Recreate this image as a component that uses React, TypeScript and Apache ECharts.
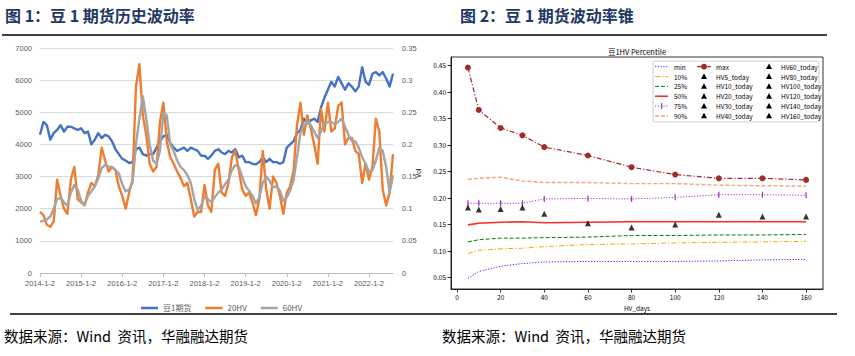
import React, { useEffect, useRef } from 'react';
import * as echarts from 'echarts';

// ---------- Figure 1: monthly samples 2014-01 .. 2022-07 ----------
const DATES: string[] = [];
for (let y = 2014; y <= 2022; y++) {
  for (let m = 1; m <= 12; m++) {
    if (y < 2022 || m <= 7) DATES.push(`${y}-${m}-2`);
  }
}
DATES.push('2022-7-29');

const PRICE = [
  4300, 4700, 4600, 4150, 4350, 4450, 4600, 4400, 4550, 4550, 4500, 4450,
  4500, 4350, 4400, 4000, 4150, 4350, 4200, 4300, 4250, 4100, 3850, 3700,
  3550, 3500, 3420, 3450, 3850, 3900, 3700, 3650, 3700, 3700, 3900, 4100,
  4250, 4300, 4050, 3900, 3800, 3850, 3900, 3800, 3900, 3850, 3800, 3650,
  3650, 3550, 3650, 3800, 3850, 3750, 3700, 3800, 3750, 3850, 3600, 3650,
  3450, 3450, 3400, 3380, 3450, 3600, 3450, 3550, 3450, 3450, 3400, 3450,
  3900, 4000, 4100, 4350, 4450, 4800, 4650, 4750, 4800, 4700, 5150, 5450,
  5700, 5950, 5800, 6100, 5900, 5700, 5900, 5800, 5650, 5800, 6400, 5950,
  5850, 6200, 6250, 6150, 6250, 6050, 5800, 6200,
];

const HV20 = [
  0.095, 0.09, 0.075, 0.072, 0.08, 0.145, 0.12, 0.1, 0.092, 0.145, 0.165, 0.115,
  0.11, 0.105, 0.125, 0.14, 0.135, 0.152, 0.195, 0.175, 0.158, 0.165, 0.16, 0.135,
  0.12, 0.1, 0.125, 0.145, 0.29, 0.325, 0.245, 0.215, 0.17, 0.158, 0.165, 0.235,
  0.265, 0.205, 0.18, 0.17, 0.158, 0.148, 0.135, 0.14, 0.115, 0.088, 0.095, 0.095,
  0.137, 0.105, 0.095, 0.16, 0.17, 0.125, 0.12, 0.14, 0.18, 0.19, 0.16, 0.13,
  0.12, 0.125, 0.11, 0.09, 0.115, 0.19, 0.13, 0.1, 0.15, 0.14, 0.12, 0.092,
  0.125, 0.135, 0.16, 0.23, 0.265, 0.215, 0.245, 0.225, 0.2, 0.17, 0.255, 0.22,
  0.265, 0.22, 0.225, 0.26, 0.265, 0.2, 0.21, 0.21, 0.19, 0.185, 0.14, 0.17,
  0.145, 0.165, 0.24, 0.22, 0.13, 0.105, 0.125, 0.185,
];

const HV60 = [
  0.08, 0.081, 0.083, 0.088, 0.1, 0.115, 0.117, 0.11, 0.105, 0.125, 0.137, 0.13,
  0.112, 0.106, 0.12, 0.127, 0.135, 0.147, 0.163, 0.168, 0.165, 0.165, 0.16, 0.155,
  0.138, 0.127, 0.13, 0.14, 0.2, 0.24, 0.275, 0.24, 0.2, 0.175, 0.17, 0.19,
  0.25, 0.245, 0.2, 0.19, 0.175, 0.165, 0.16, 0.152, 0.14, 0.115, 0.098, 0.105,
  0.118, 0.115, 0.11, 0.118, 0.125, 0.13, 0.138, 0.145, 0.16, 0.168, 0.165, 0.15,
  0.135, 0.128, 0.12, 0.108, 0.118, 0.14, 0.15, 0.143, 0.133, 0.135, 0.128, 0.112,
  0.118, 0.128, 0.145, 0.18, 0.218, 0.23, 0.235, 0.23, 0.22, 0.21, 0.22, 0.232,
  0.235, 0.235, 0.232, 0.235, 0.24, 0.228, 0.215, 0.205, 0.205, 0.195, 0.18, 0.17,
  0.157, 0.16, 0.175, 0.195, 0.19, 0.165, 0.125, 0.152,
];

const LEFT_NAMES = ['豆1期货', '20HV', '60HV'];

// ---------- Figure 2: volatility cone ----------
const HV_DAYS = [5, 10, 20, 30, 40, 60, 80, 100, 120, 140, 160];
const X_TICKS = [0, 20, 40, 60, 80, 100, 120, 140, 160];
const Y_TICKS = [0.05, 0.1, 0.15, 0.2, 0.25, 0.3, 0.35, 0.4, 0.45];

const CONE_MIN = [0.048, 0.061, 0.071, 0.076, 0.079, 0.08, 0.08, 0.08, 0.081, 0.083, 0.084];
const CONE_P10 = [0.095, 0.101, 0.104, 0.105, 0.108, 0.112, 0.113, 0.115, 0.116, 0.117, 0.118];
const CONE_P25 = [0.117, 0.121, 0.124, 0.124, 0.125, 0.126, 0.129, 0.129, 0.13, 0.13, 0.131];
const CONE_P50 = [0.149, 0.152, 0.154, 0.155, 0.153, 0.154, 0.155, 0.155, 0.155, 0.155, 0.155];
const CONE_P75 = [0.19, 0.19, 0.19, 0.19, 0.198, 0.199, 0.198, 0.201, 0.206, 0.206, 0.205];
const CONE_P90 = [0.235, 0.237, 0.239, 0.232, 0.229, 0.229, 0.227, 0.227, 0.224, 0.223, 0.222];
const CONE_MAX = [0.446, 0.366, 0.332, 0.318, 0.296, 0.28, 0.258, 0.244, 0.237, 0.237, 0.234];
const HV_TODAY = [0.182, 0.178, 0.179, 0.182, 0.17, 0.152, 0.144, 0.15, 0.168, 0.165, 0.165];

const CONE_NAMES = ['min', '10%', '25%', '50%', '75%', '90%', 'max'];
const CONE_DATA = [CONE_MIN, CONE_P10, CONE_P25, CONE_P50, CONE_P75, CONE_P90, CONE_MAX];

// styles (kept apart from data)
const CONE_STYLE: Record<string, { color: string; dash: number[] | null; width: number }> = {
  min: { color: '#2b2bff', dash: [1.2, 1.6], width: 1 },
  '10%': { color: '#ffa500', dash: [5, 2, 1.2, 2], width: 1 },
  '25%': { color: '#008000', dash: [4, 2], width: 1 },
  '50%': { color: '#ff2a2a', dash: null, width: 1.6 },
  '75%': { color: '#a53ac4', dash: [1.2, 1.6], width: 1 },
  '90%': { color: '#ffa07a', dash: [4, 2], width: 1.4 },
  max: { color: '#a52a2a', dash: [5, 2, 1.2, 2], width: 1.2 },
};

const SMALL_FONT = "'Noto Sans CJK JP', 'DejaVu Sans', sans-serif";
const CJK_FONT = "'Noto Sans CJK SC', 'Liberation Sans', sans-serif";

function buildOption() {
  const series: any[] = [];
  // Figure 1 series
  const leftColors = ['#4472C4', '#ED7D31', '#A5A5A5'];
  [PRICE, HV20, HV60].forEach((arr, i) => {
    series.push({
      name: LEFT_NAMES[i],
      type: 'line',
      xAxisIndex: 0,
      yAxisIndex: i === 0 ? 0 : 1,
      data: arr,
      symbol: 'none',
      lineStyle: { color: leftColors[i], width: 2.4, join: 'round' },
      itemStyle: { color: leftColors[i] },
      z: 2 + i,
    });
  });

  // Figure 2 series
  CONE_NAMES.forEach((name, i) => {
    const st = CONE_STYLE[name];
    const s: any = {
      name,
      type: 'line',
      xAxisIndex: 1,
      yAxisIndex: 2,
      data: HV_DAYS.map((d, j) => [d, CONE_DATA[i][j]]),
      symbol: 'none',
      lineStyle: { color: st.color, width: st.width, type: st.dash || 'solid' },
      itemStyle: { color: st.color },
      z: 5,
    };
    if (name === 'max') {
      s.symbol = 'circle';
      s.symbolSize = 6;
      s.showSymbol = true;
    }
    if (name === '75%') {
      s.symbol = 'rect';
      s.symbolSize = [1.3, 6];
      s.showSymbol = true;
    }
    series.push(s);
  });
  HV_DAYS.forEach((d, j) => {
    series.push({
      name: `HV${d}_today`,
      type: 'scatter',
      xAxisIndex: 1,
      yAxisIndex: 2,
      data: [[d, HV_TODAY[j]]],
      symbol: 'triangle',
      symbolSize: 6,
      itemStyle: { color: '#000' },
      z: 6,
    });
  });

  // matplotlib-style legend drawn as graphic
  const legendEls: any[] = [];
  legendEls.push({
    type: 'rect',
    shape: { x: 653, y: 61, width: 166, height: 61, r: 2 },
    style: { fill: '#fff', stroke: '#cfcfcf', lineWidth: 1 },
    z: 10,
  });
  const rowY = (r: number) => 66.7 + r * 9.85;
  const txt = (x: number, y: number, t: string) => ({
    type: 'text',
    x,
    y,
    style: { text: t, fill: '#000', fontSize: 6.5, fontFamily: SMALL_FONT, verticalAlign: 'middle', align: 'left' },
    z: 11,
  });
  const tri = (cx: number, cy: number) => ({
    type: 'polygon',
    shape: { points: [[cx, cy - 3.2], [cx + 3, cy + 2.4], [cx - 3, cy + 2.4]] },
    style: { fill: '#000' },
    z: 11,
  });
  const handle = (x1: number, x2: number, y: number, name: string) => {
    const st = CONE_STYLE[name];
    return {
      type: 'line',
      shape: { x1, y1: y, x2, y2: y },
      style: { stroke: st.color, lineWidth: st.width, lineDash: st.dash || undefined },
      z: 11,
    };
  };
  CONE_NAMES.slice(0, 6).forEach((name, r) => {
    const y = rowY(r);
    legendEls.push(handle(655, 668, y, name));
    if (name === '75%') {
      legendEls.push({ type: 'rect', shape: { x: 661, y: y - 3, width: 1.3, height: 6 }, style: { fill: CONE_STYLE[name].color }, z: 12 });
    }
    legendEls.push(txt(674, y, name));
  });
  // column 2: max + HV5..HV40
  legendEls.push(handle(697, 711, rowY(0), 'max'));
  legendEls.push({ type: 'circle', shape: { cx: 704, cy: rowY(0), r: 3 }, style: { fill: CONE_STYLE.max.color }, z: 12 });
  legendEls.push(txt(716, rowY(0), 'max'));
  HV_DAYS.forEach((d, j) => {
    const name = `HV${d}_today`;
    if (j < 5) {
      const y = rowY(j + 1);
      legendEls.push(tri(704, y));
      legendEls.push(txt(716, y, name));
    } else {
      const y = rowY(j - 5);
      legendEls.push(tri(769, y));
      legendEls.push(txt(781, y, name));
    }
  });

  const headText = (x: number, t: string) => ({
    type: 'text',
    x,
    y: 15,
    style: { text: t, fill: '#1F3864', fontSize: 16, fontWeight: 'bold', fontFamily: CJK_FONT, verticalAlign: 'middle', align: 'left' },
  });
  const footText = (x: number, t: string) => ({
    type: 'text',
    x,
    y: 335.5,
    style: { text: t, fill: '#000', fontSize: 14.5, fontFamily: CJK_FONT, verticalAlign: 'middle', align: 'left' },
  });

  return {
    animation: false,
    backgroundColor: '#fff',
    textStyle: { fontFamily: "'Liberation Sans', 'Noto Sans CJK SC', sans-serif" },
    grid: [
      { left: 40, top: 48, width: 353, height: 225 },
      { left: 451, top: 57, width: 372, height: 232, show: true, borderColor: '#000', borderWidth: 0.8, backgroundColor: 'transparent', z: 3 },
    ],
    legend: {
      data: LEFT_NAMES,
      left: 136,
      top: 299,
      icon: 'rect',
      itemWidth: 17,
      itemHeight: 2.5,
      itemGap: 14,
      textStyle: { fontSize: 8, color: '#595959', fontFamily: CJK_FONT },
    },
    xAxis: [
      {
        gridIndex: 0,
        type: 'category',
        data: DATES,
        boundaryGap: false,
        axisLine: { lineStyle: { color: '#BFBFBF', width: 1 } },
        axisTick: { interval: (i: number) => i % 12 === 0, length: 4, lineStyle: { color: '#BFBFBF' } },
        axisLabel: { interval: (i: number) => i % 12 === 0, fontSize: 7.5, color: '#595959', margin: 7, hideOverlap: false },
        splitLine: { show: false },
      },
      {
        gridIndex: 1,
        type: 'value',
        min: -2.75,
        max: 167.75,
        axisLine: { show: true, onZero: false, lineStyle: { color: '#000', width: 0.8 } },
        axisTick: { show: true, customValues: X_TICKS, length: 3.5, lineStyle: { color: '#000', width: 0.8 } },
        axisLabel: { customValues: X_TICKS, fontSize: 6.5, color: '#000', margin: 4.5, fontFamily: SMALL_FONT },
        splitLine: { show: false },
        name: 'HV_days',
        nameLocation: 'middle',
        nameGap: 14,
        nameTextStyle: { fontSize: 6.5, color: '#000', fontFamily: SMALL_FONT },
      },
    ],
    yAxis: [
      {
        gridIndex: 0,
        type: 'value',
        min: 0,
        max: 7000,
        interval: 1000,
        axisLine: { show: false },
        axisTick: { show: false },
        axisLabel: { fontSize: 7.5, color: '#595959', margin: 8, formatter: (v: number) => String(v) },
        splitLine: { lineStyle: { color: '#D9D9D9', width: 1 } },
      },
      {
        gridIndex: 0,
        type: 'value',
        position: 'right',
        min: 0,
        max: 0.35,
        interval: 0.05,
        axisLine: { show: false },
        axisTick: { show: false },
        axisLabel: { fontSize: 7.5, color: '#595959', margin: 9, formatter: (v: number) => String(Math.round(v * 100) / 100) },
        splitLine: { show: false },
      },
      {
        gridIndex: 1,
        type: 'value',
        min: 0.028,
        max: 0.466,
        axisLine: { show: true, onZero: false, lineStyle: { color: '#000', width: 0.8 } },
        axisTick: { show: true, customValues: Y_TICKS, length: 3.5, lineStyle: { color: '#000', width: 0.8 } },
        axisLabel: { customValues: Y_TICKS, fontSize: 6.5, color: '#000', margin: 5, fontFamily: SMALL_FONT, formatter: (v: number) => v.toFixed(2) },
        splitLine: { show: false },
        name: 'Vol',
        nameLocation: 'middle',
        nameGap: 30,
        nameRotate: 90,
        nameTextStyle: { fontSize: 6.5, color: '#000', fontFamily: SMALL_FONT },
      },
    ],
    series,
    graphic: [
      headText(5, '图 1：豆 1 期货历史波动率'),
      headText(460, '图 2：豆 1 期货波动率锥'),
      { type: 'line', shape: { x1: 2, y1: 35, x2: 827, y2: 35 }, style: { stroke: '#000', lineWidth: 1.5 } },
      { type: 'line', shape: { x1: 10, y1: 314, x2: 837, y2: 314 }, style: { stroke: '#000', lineWidth: 1.5 } },
      footText(4, '数据来源：Wind  资讯，华融融达期货'),
      footText(442, '数据来源：Wind  资讯，华融融达期货'),
      {
        type: 'text',
        x: 637,
        y: 51,
        style: { text: '豆1HV Percentile', fill: '#000', fontSize: 7.5, fontFamily: SMALL_FONT, align: 'center', verticalAlign: 'middle' },
      },
      ...legendEls,
    ],
  };
}

export default function App() {
  const ref = useRef<HTMLDivElement>(null);
  useEffect(() => {
    if (!ref.current) return;
    const chart = echarts.init(ref.current, null, { renderer: 'svg' });
    chart.setOption(buildOption() as any);
    return () => chart.dispose();
  }, []);
  return <div ref={ref} style={{ position: 'absolute', left: 0, top: 0, width: 855, height: 356 }} />;
}
